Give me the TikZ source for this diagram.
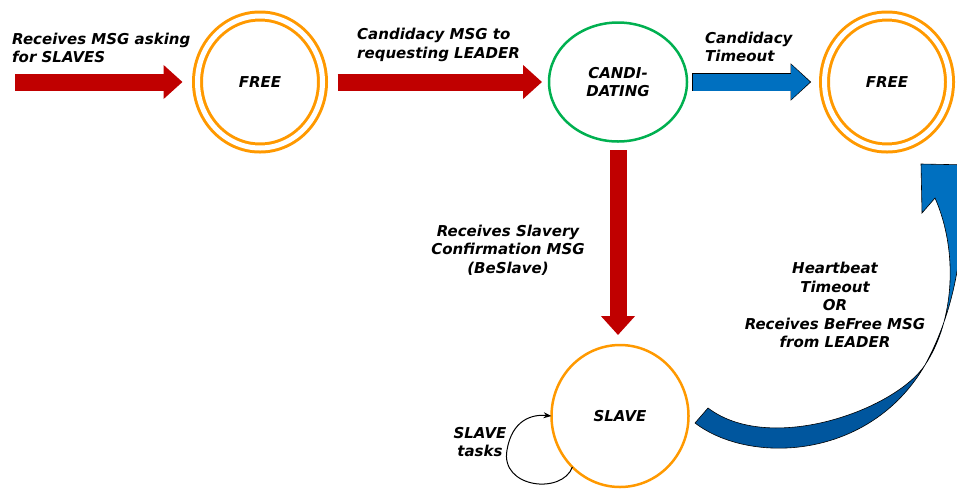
\documentclass[tikz,border=0pt]{standalone}
\usepackage{fontspec}
\setmainfont{DejaVu Sans}
\usetikzlibrary{arrows.meta,shapes.geometric}
\definecolor{stateorange}{RGB}{255,153,0}
\definecolor{stategreen}{RGB}{0,176,80}
\definecolor{msgred}{RGB}{192,0,0}
\definecolor{toblue}{RGB}{0,112,192}
\definecolor{todarkblue}{RGB}{0,86,158}

\begin{document}
\begin{tikzpicture}[x=1pt,y=-1pt,
    lbl/.style={font=\fontsize{15}{18.5}\selectfont\bfseries\itshape,inner sep=0pt},
    freestate/.style={lbl,ellipse,draw=stateorange,line width=3pt,double=white,
      double distance=5pt,minimum width=125pt,minimum height=132pt,outer sep=0pt},
    redarrow/.style={msgred,line width=17pt,-{Triangle[length=19pt,width=33pt]}},
    bluearrow/.style={toblue,line width=17pt,-{Triangle[length=19pt,width=34pt]}},
    blueedge/.style={black,line width=18.4pt,-{Triangle[length=20.5pt,width=36pt]}}]
       \useasboundingbox (0,0) rectangle (957,488);
       \clip (0,0) rectangle (957,488);
       % states
       \node[freestate] (free1) at (260,82) {FREE};
       \node[lbl,ellipse,draw=stategreen,line width=2.5pt,align=center,outer sep=0pt,
         minimum width=138pt,minimum height=119pt] (candi) at (618,82) {CANDI-\\DATING};
       \node[freestate] (free2) at (887,82) {FREE};
       \node[lbl,ellipse,draw=stateorange,line width=2.5pt,outer sep=0pt,
         minimum width=137pt,minimum height=142pt] (slave) at (620,416) {SLAVE};
       % transitions
       \coordinate (src) at (15,82);
       \draw[redarrow,shorten >=15pt] (src) -- (free1);
       \draw[redarrow,shorten <=15pt,shorten >=7pt] (free1) -- (candi);
       \draw[blueedge,shorten <=5.2pt,shorten >=13.3pt] (candi) -- (free2);
       \draw[bluearrow,shorten <=6pt,shorten >=14.5pt] (candi) -- (free2);
       \draw[redarrow,shorten <=8.5pt,shorten >=10pt] (candi.south) -- (candi.south |- slave.north);
       \draw[line width=1pt,-{Stealth[length=8pt,width=6pt]}] (slave.-133)
         .. controls (562,495) and (500,488) .. (507,450)
         .. controls (512,420) and (532,414) .. (slave.west);
       % curved return arrow
       \draw[fill=todarkblue,line width=0.6pt] (695,423)
         .. controls (750,465) and (870,460) .. (925,365)
         .. controls (895,410) and (770,455) .. (708,408) -- cycle;
       \draw[fill=toblue,line width=0.6pt] (925,365)
         .. controls (955,310) and (968,240) .. (958,178) -- (972,165) --
         (921,164) -- (922,213) -- (935,198)
         .. controls (958,250) and (955,320) .. (925,365) -- cycle;
       % labels
       \node[lbl,anchor=west,align=left] (lblask) at (12,48) {Receives MSG asking\\for SLAVES};
       \node[lbl,anchor=west,align=left] (lblcand) at (357,45) {Candidacy MSG to\\requesting LEADER};
       \node[lbl,anchor=west,align=left] (lbltimeout) at (705,47) {Candidacy\\Timeout};
       \node[lbl,align=center] (lblconfirm) at (508,250) {Receives Slavery\\Confirmation MSG\\(BeSlave)};
       \node[lbl,align=center] (lblheart) at (835,305) {Heartbeat\\Timeout\\OR\\Receives BeFree MSG\\from LEADER};
       \node[lbl,align=center] (lbltasks) at (480,442) {SLAVE\\tasks};
      \end{tikzpicture}
\end{document}
